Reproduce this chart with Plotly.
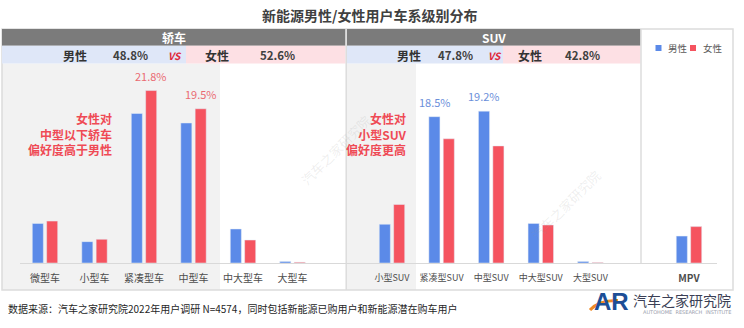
import plotly.graph_objects as go

# ---------------- data ----------------
sedan_cats = ["微型车", "小型车", "紧凑型车", "中型车", "中大型车", "大型车"]
sedan_male = [5.0, 2.7, 18.9, 17.7, 4.3, 0.2]
sedan_female = [5.3, 3.0, 21.8, 19.5, 2.9, 0.1]

suv_cats = ["小型SUV", "紧凑型SUV", "中型SUV", "中大型SUV", "大型SUV"]
suv_male = [4.9, 18.5, 19.2, 5.0, 0.2]
suv_female = [7.4, 15.7, 14.8, 4.8, 0.05]

mpv_cats = ["MPV"]
mpv_male = [3.4]
mpv_female = [4.6]

segment_names = ["轿车", "SUV"]
segment_male_share = ["48.8%", "47.8%"]
segment_female_share = ["52.6%", "42.8%"]

series_names = ["男性", "女性"]
title_text = "新能源男性/女性用户车系级别分布"
note_sedan = "女性对<br>中型以下轿车<br>偏好度高于男性"
note_suv = "女性对<br>小型SUV<br>偏好度更高"
source_text = "数据来源：汽车之家研究院2022年用户调研 N=4574，同时包括新能源已购用户和新能源潜在购车用户"

# ---------------- style ----------------
W, H = 744, 328
BLUE = "#5b8ae8"
RED = "#f5535f"
FONT = "Noto Sans CJK SC, Noto Sans, sans-serif"


def px(x):
    return x / W


def py(y):
    return 1 - y / H


fig = go.Figure()

groups = [
    (sedan_cats, sedan_male, sedan_female, "x"),
    (suv_cats, suv_male, suv_female, "x2"),
    (mpv_cats, mpv_male, mpv_female, "x3"),
]
for cats, male, female, xa in groups:
    fig.add_trace(go.Bar(x=cats, y=male, name=series_names[0], marker_color=BLUE,
                         xaxis=xa, yaxis="y", showlegend=False, hoverinfo="x+y"))
    fig.add_trace(go.Bar(x=cats, y=female, name=series_names[1], marker_color=RED,
                         xaxis=xa, yaxis="y", showlegend=False, hoverinfo="x+y"))

y_bottom_px, y_top_px = 263, 70
unit_px = 7.91
y_max = (y_bottom_px - y_top_px) / unit_px


def xaxis_style(size, bold=False):
    return dict(showgrid=False, zeroline=False, showline=False, ticks="",
                tickangle=0, automargin=False,
                tickfont=dict(size=size, color="#4d4d4d", family=FONT, weight="bold" if bold else "normal"),
                ticklabelstandoff=8, fixedrange=True)


fig.update_layout(
    width=W, height=H,
    margin=dict(l=0, r=0, t=0, b=0),
    paper_bgcolor="white",
    plot_bgcolor="rgba(0,0,0,0)",
    font=dict(family=FONT, color="#404040"),
    barmode="group",
    bargap=0.42,
    bargroupgap=0.23,
    xaxis=dict(domain=[px(20.25), px(317.25)], anchor="y", **xaxis_style(10)),
    xaxis2=dict(domain=[px(367.2), px(615.2)], anchor="y", **xaxis_style(9)),
    xaxis3=dict(domain=[px(664.2), px(713.8)], anchor="y", **xaxis_style(10, True)),
    yaxis=dict(domain=[py(y_bottom_px), py(y_top_px)], range=[0, y_max],
               visible=False, fixedrange=True),
    showlegend=False,
)

shapes = []
# panel backgrounds
shapes.append(dict(type="rect", xref="paper", yref="paper", x0=px(2), x1=px(220),
                   y0=py(290), y1=py(63.5), fillcolor="#f2f2f2", line_width=0, layer="below"))
shapes.append(dict(type="rect", xref="paper", yref="paper", x0=px(347), x1=px(416),
                   y0=py(290), y1=py(63.5), fillcolor="#f2f2f2", line_width=0, layer="below"))
# outer frame
shapes.append(dict(type="rect", xref="paper", yref="paper", x0=px(2), x1=px(733),
                   y0=py(290), y1=py(29), fillcolor="rgba(0,0,0,0)",
                   line=dict(color="#dcdcdc", width=1.5), layer="below"))
# header bars
for x0, x1 in [(2, 345.5), (347, 640.5)]:
    shapes.append(dict(type="rect", xref="paper", yref="paper", x0=px(x0), x1=px(x1),
                       y0=py(45.8), y1=py(29), fillcolor="#7b7b7b", line_width=0, layer="below"))
# male / female share rows
for x0, xm, x1 in [(2, 186, 345.5), (347, 503, 640.5)]:
    shapes.append(dict(type="rect", xref="paper", yref="paper", x0=px(x0), x1=px(xm),
                       y0=py(63.5), y1=py(45.8), fillcolor="#dfe7f8", line_width=0, layer="below"))
    shapes.append(dict(type="rect", xref="paper", yref="paper", x0=px(xm), x1=px(x1),
                       y0=py(63.5), y1=py(45.8), fillcolor="#fde0e4", line_width=0, layer="below"))
# separators
shapes.append(dict(type="line", xref="paper", yref="paper", x0=px(346.2), x1=px(346.2),
                   y0=py(290), y1=py(29), line=dict(color="#dcdcdc", width=1.5), layer="below"))
shapes.append(dict(type="line", xref="paper", yref="paper", x0=px(641), x1=px(641),
                   y0=py(263), y1=py(29), line=dict(color="#dcdcdc", width=1.5), layer="below"))
# baseline
shapes.append(dict(type="line", xref="paper", yref="paper", x0=px(20), x1=px(717),
                   y0=py(263.5), y1=py(263.5), line=dict(color="#d9d9d9", width=1), layer="below"))
# legend swatches
for sx, col in [(658.5, BLUE), (693, RED)]:
    shapes.append(dict(type="rect", xref="paper", yref="paper", x0=px(sx - 3), x1=px(sx + 3),
                       y0=py(51), y1=py(45), fillcolor=col, line_width=0, layer="above"))
# logo swoosh
shapes.append(dict(type="path", xref="paper", yref="paper",
                   path=f"M {px(590)} {py(310)} Q {px(599)} {py(300)} {px(618)} {py(300.5)}",
                   line=dict(color="#f08a24", width=3), layer="above"))

fig.update_layout(shapes=shapes)

ann = []


def label(text, x, y, size, color, xanchor="center", family=FONT, **kw):
    ann.append(dict(text=text, x=px(x), y=py(y), xref="paper", yref="paper",
                    xanchor=xanchor, yanchor="middle", showarrow=False,
                    font=dict(size=size, color=color, family=family), **kw))


# title
label(f"<b>{title_text}</b>", 369, 15, 14, "#404040")
# header texts
header_pos = [
    dict(name=173.5, m=75, mv=130, vs=175, f=217, fv=277),
    dict(name=493.5, m=409, mv=455, vs=495, f=530, fv=582),
]
for i, p in enumerate(header_pos):
    label(f"<b>{segment_names[i]}</b>", p["name"], 37.5, 12, "white")
    label(f"<b>{series_names[0]}</b>", p["m"], 55, 12, "#333333")
    label(f"<b>{segment_male_share[i]}</b>", p["mv"], 55, 11.5, "#404040")
    label("<b><i>VS</i></b>", p["vs"], 55, 10, "#e02a3c")
    label(f"<b>{series_names[1]}</b>", p["f"], 55, 12, "#333333")
    label(f"<b>{segment_female_share[i]}</b>", p["fv"], 55, 11.5, "#404040")

# legend texts
label(series_names[0], 666, 48, 9.5, "#595959", xanchor="left")
label(series_names[1], 701, 48, 9.5, "#595959", xanchor="left")

# notes
label(f"<b>{note_sedan}</b>", 114, 133.5, 12, "#ef4a55", xanchor="right", align="right")
label(f"<b>{note_suv}</b>", 409, 133.5, 12, "#ef4a55", xanchor="right", align="right")

# value labels (max bars)
LBL_RED = "#ea6a72"
LBL_BLUE = "#6c8fda"


def value_label(cat, val, xref, color, shift):
    ann.append(dict(text=f"{val}%", x=cat, y=val, xref=xref, yref="y",
                    xanchor="center", yanchor="bottom", xshift=shift, yshift=5,
                    showarrow=False, font=dict(size=11, color=color, family=FONT)))


for c in ["紧凑型车", "中型车"]:
    i = sedan_cats.index(c)
    value_label(c, sedan_female[i], "x", LBL_RED, 7)
for c in ["紧凑型SUV", "中型SUV"]:
    i = suv_cats.index(c)
    value_label(c, suv_male[i], "x2", LBL_BLUE, -7)

# footer
label(source_text, 6, 308, 10, "#262626", xanchor="left")
# logo
label("<b>AR</b>", 611, 301, 24, "#1d4e96", family="Liberation Sans, Arial, sans-serif")
label("汽车之家研究院", 733, 300, 14, "#3b3f55", xanchor="right")
label("AUTOHOME  RESEARCH  INSTITUTE", 733, 312, 5, "#9aa0ad", xanchor="right",
      family="DejaVu Sans, sans-serif")
# watermarks
for wx, wy in [(335, 150), (565, 205)]:
    ann.append(dict(text="汽车之家研究院", x=px(wx), y=py(wy), xref="paper", yref="paper",
                    xanchor="center", yanchor="middle", textangle=-45, showarrow=False,
                    font=dict(size=13, color="rgba(150,150,150,0.16)", family=FONT)))

fig.update_layout(annotations=ann)

fig.write_html("out.html")
